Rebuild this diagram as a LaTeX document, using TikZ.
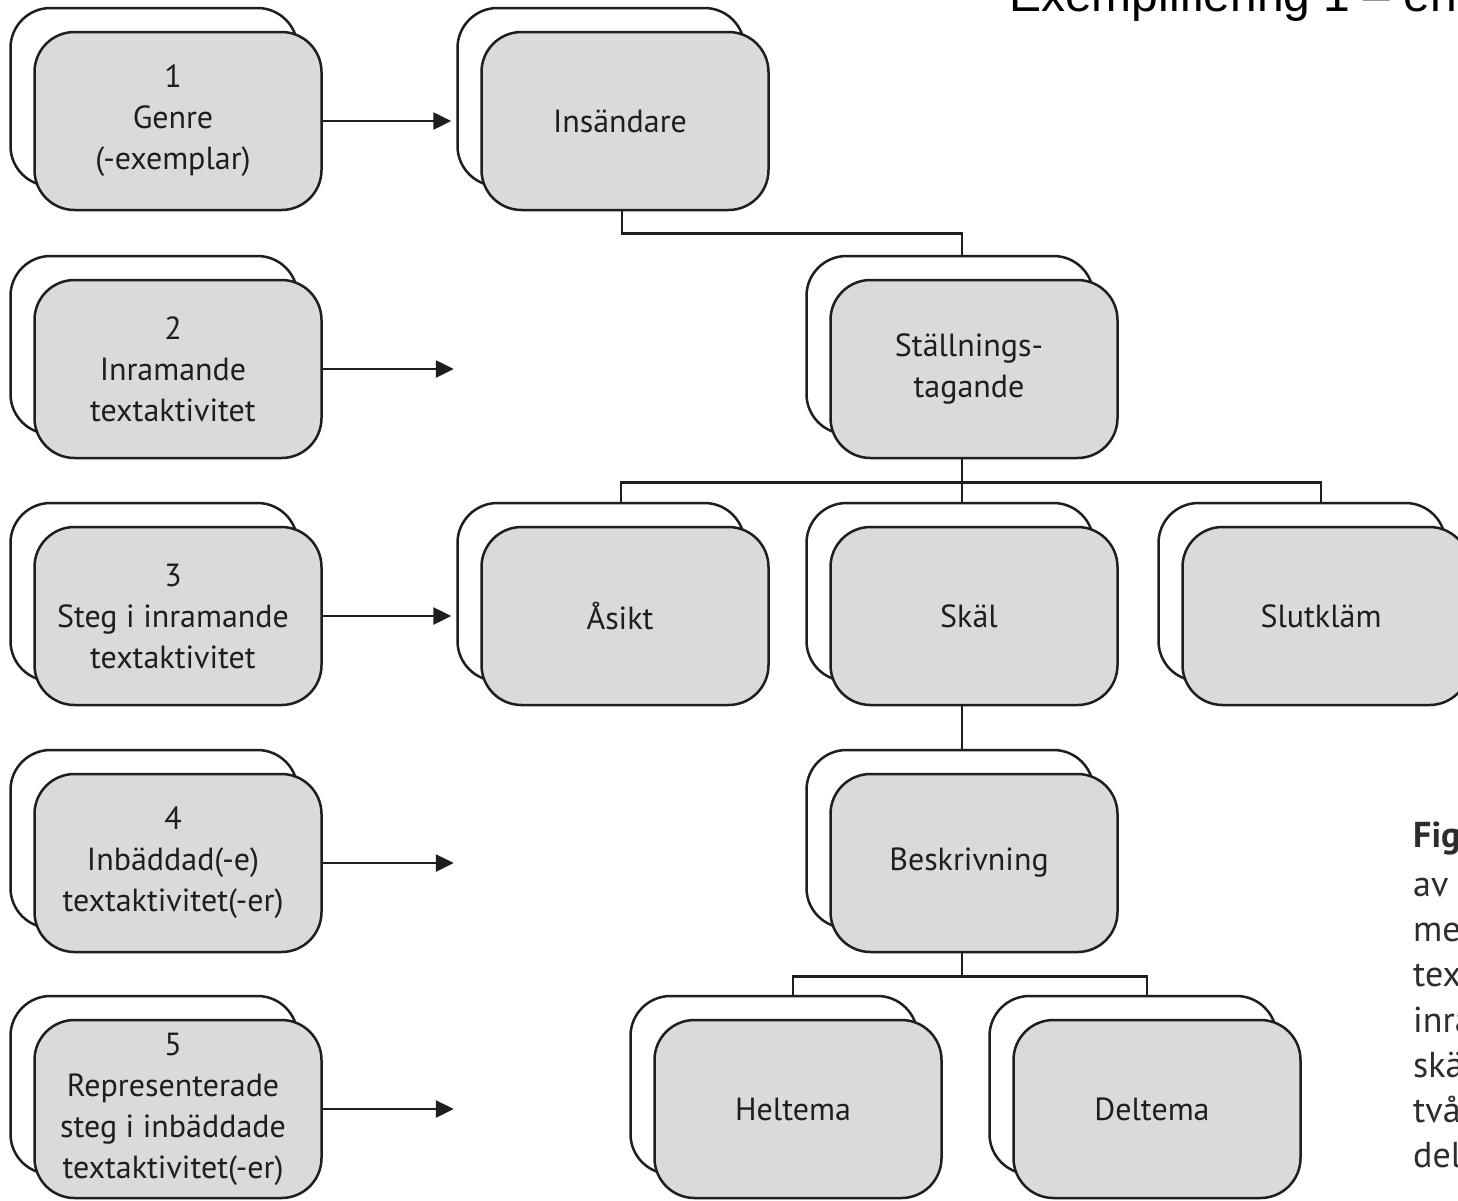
\documentclass[tikz,border=0pt]{standalone}
\usepackage{fontspec}
\setmainfont{PT Sans}
\newfontfamily\titlefont{Liberation Sans}
\usetikzlibrary{arrows.meta}
\definecolor{cardfill}{RGB}{217,218,220}
\definecolor{ink}{RGB}{30,30,30}
\definecolor{captionink}{RGB}{45,45,45}
\pgfdeclarelayer{bg}
\pgfsetlayers{bg,main}
\tikzset{
  cardshape/.style={rectangle, rounded corners=40pt, minimum width=287pt,
    minimum height=178pt, inner sep=0pt, draw=ink, line width=2.5pt},
  card/.style={cardshape, fill=cardfill},
  cardback/.style={cardshape, fill=white},
  cardtext/.style={align=center, text=ink, font=\fontsize{32}{41}\selectfont,
    xshift=-5pt, inner sep=0pt},
  conn/.style={draw=ink, line width=2.6pt},
  arr/.style={conn, -{Triangle[length=18pt,width=17pt]}},
  caption/.style={anchor=base west, inner sep=0pt, text=captionink,
    font=\fontsize{36}{45}\selectfont},
}
% a grey card with a white card peeking out behind its upper left
\newcommand\card[4]{%
  \node[cardback] (#1b) at (#2-24,#3-24) {};
  \node[card, label={[cardtext]center:{#4}}] (#1) at (#2,#3) {};
}
\begin{document}
\begin{tikzpicture}[x=1pt,y=-1pt]
  \useasboundingbox (0,0) rectangle (1458,1200);

  % level column
  \card{L1}{178}{121}{1\\Genre\\(-exemplar)}
  \card{L2}{178}{369}{2\\Inramande\\textaktivitet}
  \card{L3}{178}{616}{3\\Steg i inramande\\textaktivitet}
  \card{L4}{178}{863}{4\\Inbäddad(-e)\\textaktivitet(-er)}
  \card{L5}{178}{1109}{5\\Representerade\\steg i inbäddade\\textaktivitet(-er)}

  % tree
  \card{ins}{625}{121}{Insändare}
  \card{stl}{974}{369}{Ställnings-\\tagande}
  \card{asi}{625}{616}{Åsikt}
  \card{ska}{974}{616}{Skäl}
  \card{slu}{1326}{616}{Slutkläm}
  \card{bes}{974}{863}{Beskrivning}
  \card{hel}{798}{1109}{Heltema}
  \card{del}{1157}{1109}{Deltema}

  \begin{pgfonlayer}{bg}
    \fill[white] (0,0) rectangle (1458,1200);
    \draw[conn] ([xshift=-3pt]ins.south) -- ++(0,22) -| ([xshift=-12pt]stl.north);
    \draw[conn] ([xshift=-12pt]stl.south) -- ++(0,23) coordinate (j1);
    \draw[conn] ([xshift=-4pt]asi.north) |- (j1) -| ([xshift=-5pt]slu.north);
    \draw[conn] (j1) -- ([xshift=-12pt]ska.north);
    \draw[conn] ([xshift=-12pt]ska.south) -- ([xshift=-12pt]bes.north);
    \draw[conn] ([xshift=-12pt]bes.south) -- ++(0,23) coordinate (j2);
    \draw[conn] ([xshift=-5pt]hel.north) |- (j2) -| ([xshift=-10pt]del.north);
  \end{pgfonlayer}

  % arrows from the levels
  \coordinate (a2) at ([xshift=131pt]L2.east);
  \coordinate (a4) at ([xshift=131pt]L4.east);
  \coordinate (a5) at ([xshift=131pt]L5.east);
  \draw[arr, shorten >=5pt] (L1.east) -- (L1.east -| insb.west);
  \draw[arr] (L2.east) -- (a2);
  \draw[arr, shorten >=5pt] (L3.east) -- (L3.east -| asib.west);
  \draw[arr] (L4.east) -- (a4);
  \draw[arr] (L5.east) -- (a5);

  % heading and caption
  \node[anchor=base west, inner sep=0pt,
        font=\titlefont\fontsize{48}{58}\selectfont] (title) at (1009,11)
        {Exemplifiering 1 – en};
  \node[caption, font=\bfseries\fontsize{36}{45}\selectfont] (cap1) at (1413,847) {Fig};
  \node[caption] (cap2) at (1413,896) {av e};
  \node[caption] (cap3) at (1413,941) {me};
  \node[caption] (cap4) at (1413,986) {tex};
  \node[caption] (cap5) at (1413,1032) {inra};
  \node[caption] (cap6) at (1413,1077) {skä};
  \node[caption] (cap7) at (1413,1122) {två};
  \node[caption] (cap8) at (1413,1167) {del};
\end{tikzpicture}
\end{document}
